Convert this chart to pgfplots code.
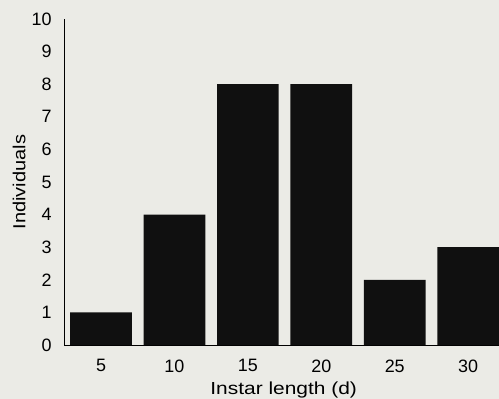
\documentclass[border=0pt]{standalone}
\usepackage{fontspec}
\setmainfont{Liberation Sans}
\newfontfamily\widefont[FakeStretch=1.2]{Liberation Sans}
\newfontfamily\ywidefont[FakeStretch=1.15]{Liberation Sans}
\usepackage{pgfplots}
\pgfplotsset{compat=1.18}
\definecolor{bg}{HTML}{EBEBE6}
\definecolor{barc}{HTML}{101010}
\begin{document}
\begin{tikzpicture}
\fill[bg] (0,0) rectangle (499bp,399bp);
\begin{axis}[
  at={(64bp,54bp)}, anchor=south west,
  scale only axis, width=435bp, height=326bp,
  xmin=2.48, xmax=32.1, ymin=0, ymax=10,
  axis x line*=bottom, axis y line*=left,
  axis line style={-, line width=0.9pt, black},
  xtick={5,10,15,20,25,30}, ytick={0,1,...,10},
  major tick length=0pt,
  xticklabel style={yshift=-11bp},
  yticklabel style={xshift=-9bp},
  tick label style={font=\fontsize{18}{20}\selectfont},
  /pgf/number format/assume math mode=true,
  xlabel={Instar length (d)},
  ylabel={Individuals},
  xlabel style={font=\widefont\fontsize{17.5}{20}\selectfont, at={(axis description cs:0.505,-0.153)}, anchor=base},
  ylabel style={font=\ywidefont\fontsize{17.5}{20}\selectfont, at={(axis description cs:-0.103,0.5)}, anchor=center, rotate=0},
  clip=false,
]
\addplot[ybar, bar width=4.2, fill=barc, draw=none] coordinates {
(5,1) (10,4) (15,8) (20,8) (25,2) (30,3)};
\end{axis}
\pgfresetboundingbox
\useasboundingbox (0,0) rectangle (499bp,399bp);
\end{tikzpicture}
\end{document}
